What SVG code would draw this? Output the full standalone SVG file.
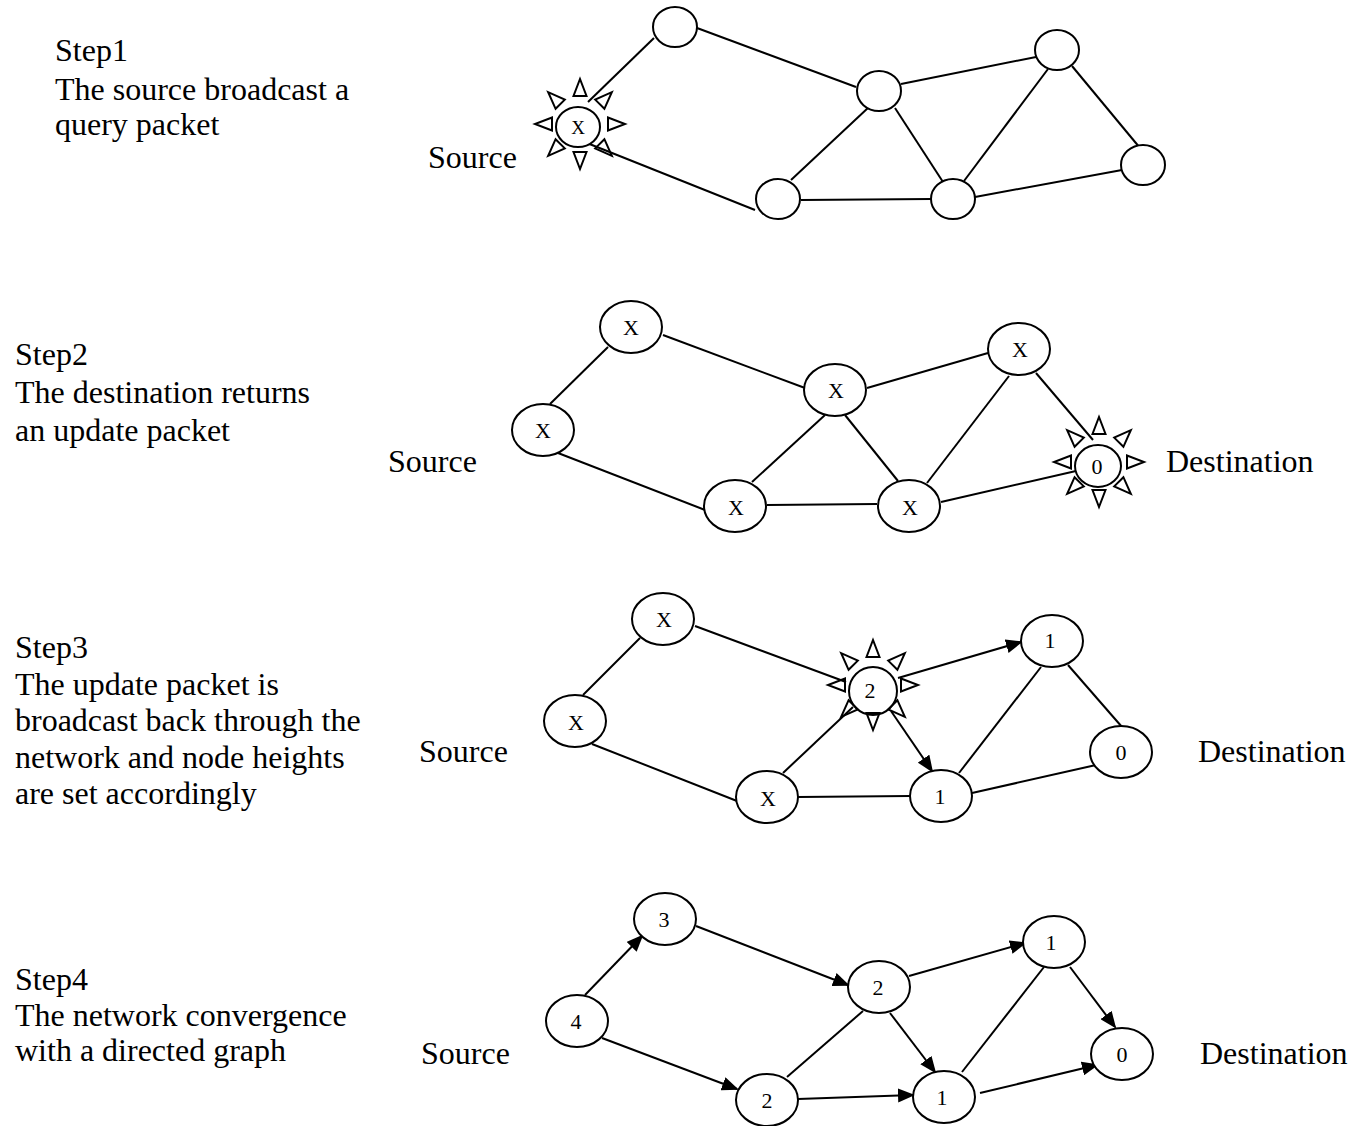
<svg xmlns="http://www.w3.org/2000/svg" xmlns:xlink="http://www.w3.org/1999/xlink" width="1366" height="1126" viewBox="0 0 1366 1126">
  <style>
    .txt { font-family: "Liberation Serif", "Times New Roman", serif; font-size: 32px; fill: #000; }
    .lbl { font-family: "Liberation Serif", "Times New Roman", serif; font-size: 22px; fill: #000; text-anchor: middle; }
    .lbl-s { font-size: 19px; }
    .node { fill: #fff; stroke: #000; stroke-width: 2; }
    .edge { stroke: #000; stroke-width: 2; fill: none; }
    .arrow { marker-end: url(#head); }
    .ray { fill: none; stroke: #000; stroke-width: 2; stroke-linejoin: miter; }
  </style>
  <defs>
    <marker id="head" markerWidth="17" markerHeight="14" refX="15" refY="7" orient="auto" markerUnits="userSpaceOnUse">
      <path d="M0,0 L17,7 L0,14 z" fill="#000"/>
    </marker>
    <!-- eight open triangles pointing outward: a broadcasting node -->
    <g id="burst" class="ray">
      <polygon points="-6.5,-28 6.5,-28 0,-45"/>
      <polygon points="-6.5,-28 6.5,-28 0,-45" transform="rotate(45)"/>
      <polygon points="-6.5,-28 6.5,-28 0,-45" transform="rotate(90)"/>
      <polygon points="-6.5,-28 6.5,-28 0,-45" transform="rotate(135)"/>
      <polygon points="-6.5,-28 6.5,-28 0,-45" transform="rotate(180)"/>
      <polygon points="-6.5,-28 6.5,-28 0,-45" transform="rotate(225)"/>
      <polygon points="-6.5,-28 6.5,-28 0,-45" transform="rotate(270)"/>
      <polygon points="-6.5,-28 6.5,-28 0,-45" transform="rotate(315)"/>
    </g>
  </defs>

  <!-- step descriptions -->
  <g id="captions">
    <text class="txt" x="55" y="61">Step1</text>
    <text class="txt" x="55" y="100">The source broadcast a</text>
    <text class="txt" x="55" y="135">query packet</text>

    <text class="txt" x="15" y="365">Step2</text>
    <text class="txt" x="15" y="403">The destination returns</text>
    <text class="txt" x="15" y="441">an update packet</text>

    <text class="txt" x="15" y="658">Step3</text>
    <text class="txt" x="15" y="695">The update packet is</text>
    <text class="txt" x="15" y="731">broadcast back through the</text>
    <text class="txt" x="15" y="768">network and node heights</text>
    <text class="txt" x="15" y="804">are set accordingly</text>

    <text class="txt" x="15" y="990">Step4</text>
    <text class="txt" x="15" y="1026">The network convergence</text>
    <text class="txt" x="15" y="1061">with a directed graph</text>

    <text class="txt" x="428" y="168">Source</text>
    <text class="txt" x="388" y="472">Source</text>
    <text class="txt" x="1166" y="472">Destination</text>
    <text class="txt" x="419" y="762">Source</text>
    <text class="txt" x="1198" y="762">Destination</text>
    <text class="txt" x="421" y="1064">Source</text>
    <text class="txt" x="1200" y="1064">Destination</text>
  </g>

  <!-- links -->
  <g id="connectors">
    <!-- step 1 -->
    <line class="edge" x1="588" y1="102" x2="654" y2="38"/>
    <line class="edge" x1="587" y1="143" x2="755" y2="210"/>
    <line class="edge" x1="697" y1="28" x2="856" y2="87"/>
    <line class="edge" x1="869" y1="107" x2="791" y2="180"/>
    <line class="edge" x1="895" y1="108" x2="943" y2="182"/>
    <line class="edge" x1="801" y1="200" x2="931" y2="199"/>
    <line class="edge" x1="901" y1="84" x2="1036" y2="57"/>
    <line class="edge" x1="1048" y1="69" x2="964" y2="181"/>
    <line class="edge" x1="1072" y1="66" x2="1140" y2="148"/>
    <line class="edge" x1="975" y1="197" x2="1122" y2="170"/>

    <!-- step 2 -->
    <line class="edge" x1="608" y1="347" x2="550" y2="404"/>
    <line class="edge" x1="663" y1="335" x2="805" y2="388"/>
    <line class="edge" x1="558" y1="453" x2="705" y2="510"/>
    <line class="edge" x1="752" y1="482" x2="825" y2="415"/>
    <line class="edge" x1="767" y1="505" x2="877" y2="504"/>
    <line class="edge" x1="845" y1="415" x2="898" y2="481"/>
    <line class="edge" x1="867" y1="388" x2="988" y2="353"/>
    <line class="edge" x1="1009" y1="376" x2="927" y2="483"/>
    <line class="edge" x1="1036" y1="373" x2="1093" y2="440"/>
    <line class="edge" x1="941" y1="502" x2="1076" y2="471"/>

    <!-- step 3 -->
    <line class="edge" x1="640" y1="638" x2="583" y2="695"/>
    <line class="edge" x1="695" y1="626" x2="846" y2="682"/>
    <line class="edge" x1="592" y1="744" x2="737" y2="801"/>
    <line class="edge" x1="783" y1="773" x2="853" y2="707"/>
    <line class="edge" x1="798" y1="797" x2="910" y2="796"/>
    <line class="edge arrow" x1="898" y1="678" x2="1021" y2="642"/>
    <line class="edge arrow" x1="891" y1="711" x2="932" y2="771"/>
    <line class="edge" x1="1041" y1="667" x2="959" y2="773"/>
    <line class="edge" x1="1068" y1="665" x2="1122" y2="727"/>
    <line class="edge" x1="972" y1="793" x2="1096" y2="765"/>

    <!-- step 4 -->
    <line class="edge arrow" x1="585" y1="995" x2="642" y2="936"/>
    <line class="edge arrow" x1="602" y1="1038" x2="737" y2="1089"/>
    <line class="edge arrow" x1="696" y1="926" x2="848" y2="985"/>
    <line class="edge arrow" x1="909" y1="976" x2="1025" y2="943"/>
    <line class="edge arrow" x1="890" y1="1013" x2="935" y2="1072"/>
    <line class="edge arrow" x1="798" y1="1099" x2="913" y2="1095"/>
    <line class="edge arrow" x1="1070" y1="967" x2="1115" y2="1027"/>
    <line class="edge arrow" x1="980" y1="1093" x2="1097" y2="1065"/>
    <line class="edge" x1="787" y1="1077" x2="863" y2="1011"/>
    <line class="edge" x1="1044" y1="967" x2="962" y2="1072"/>
  </g>

  <!-- step 1 nodes -->
  <g id="s1-source">
    <ellipse class="node" cx="578" cy="127" rx="22" ry="20"/>
    <use xlink:href="#burst" href="#burst" x="580" y="124"/>
    <text class="lbl lbl-s" x="578" y="134">X</text>
  </g>
  <g id="s1-a"><ellipse class="node" cx="675" cy="27" rx="22" ry="20"/></g>
  <g id="s1-b"><ellipse class="node" cx="879" cy="91" rx="22" ry="20"/></g>
  <g id="s1-c"><ellipse class="node" cx="778" cy="199" rx="22" ry="20"/></g>
  <g id="s1-d"><ellipse class="node" cx="953" cy="199" rx="22" ry="20"/></g>
  <g id="s1-e"><ellipse class="node" cx="1057" cy="50" rx="22" ry="20"/></g>
  <g id="s1-f"><ellipse class="node" cx="1143" cy="165" rx="22" ry="20"/></g>

  <!-- step 2 nodes -->
  <g id="s2-top"><ellipse class="node" cx="631" cy="327" rx="31" ry="26"/><text class="lbl" x="631" y="335">X</text></g>
  <g id="s2-source"><ellipse class="node" cx="543" cy="430" rx="31" ry="26"/><text class="lbl" x="543" y="438">X</text></g>
  <g id="s2-mid"><ellipse class="node" cx="835" cy="390" rx="31" ry="26"/><text class="lbl" x="836" y="398">X</text></g>
  <g id="s2-right"><ellipse class="node" cx="1019" cy="349" rx="31" ry="26"/><text class="lbl" x="1020" y="357">X</text></g>
  <g id="s2-bot1"><ellipse class="node" cx="735" cy="506" rx="31" ry="26"/><text class="lbl" x="736" y="515">X</text></g>
  <g id="s2-bot2"><ellipse class="node" cx="909" cy="506" rx="31" ry="26"/><text class="lbl" x="910" y="515">X</text></g>
  <g id="s2-dest">
    <ellipse class="node" cx="1098" cy="466" rx="23" ry="21"/>
    <use xlink:href="#burst" href="#burst" x="1099" y="462"/>
    <text class="lbl" x="1097" y="474">0</text>
  </g>

  <!-- step 3 nodes -->
  <g id="s3-top"><ellipse class="node" cx="663" cy="619" rx="31" ry="26"/><text class="lbl" x="664" y="627">X</text></g>
  <g id="s3-source"><ellipse class="node" cx="575" cy="721" rx="31" ry="26"/><text class="lbl" x="576" y="730">X</text></g>
  <g id="s3-mid">
    <ellipse class="node" cx="873" cy="691" rx="24" ry="24"/>
    <use xlink:href="#burst" href="#burst" x="873" y="685"/>
    <text class="lbl" x="870" y="698">2</text>
  </g>
  <g id="s3-right"><ellipse class="node" cx="1052" cy="641" rx="31" ry="26"/><text class="lbl" x="1050" y="648">1</text></g>
  <g id="s3-bot1"><ellipse class="node" cx="767" cy="797" rx="31" ry="26"/><text class="lbl" x="768" y="806">X</text></g>
  <g id="s3-bot2"><ellipse class="node" cx="941" cy="796" rx="31" ry="26"/><text class="lbl" x="940" y="804">1</text></g>
  <g id="s3-dest"><ellipse class="node" cx="1121" cy="752" rx="31" ry="26"/><text class="lbl" x="1121" y="760">0</text></g>

  <!-- step 4 nodes -->
  <g id="s4-top"><ellipse class="node" cx="665" cy="919" rx="31" ry="26"/><text class="lbl" x="664" y="927">3</text></g>
  <g id="s4-source"><ellipse class="node" cx="577" cy="1021" rx="31" ry="26"/><text class="lbl" x="576" y="1029">4</text></g>
  <g id="s4-mid"><ellipse class="node" cx="879" cy="987" rx="31" ry="26"/><text class="lbl" x="878" y="995">2</text></g>
  <g id="s4-right"><ellipse class="node" cx="1054" cy="942" rx="31" ry="26"/><text class="lbl" x="1051" y="950">1</text></g>
  <g id="s4-bot1"><ellipse class="node" cx="767" cy="1100" rx="31" ry="26"/><text class="lbl" x="767" y="1108">2</text></g>
  <g id="s4-bot2"><ellipse class="node" cx="944" cy="1097" rx="31" ry="26"/><text class="lbl" x="942" y="1105">1</text></g>
  <g id="s4-dest"><ellipse class="node" cx="1122" cy="1054" rx="31" ry="26"/><text class="lbl" x="1122" y="1062">0</text></g>
</svg>
